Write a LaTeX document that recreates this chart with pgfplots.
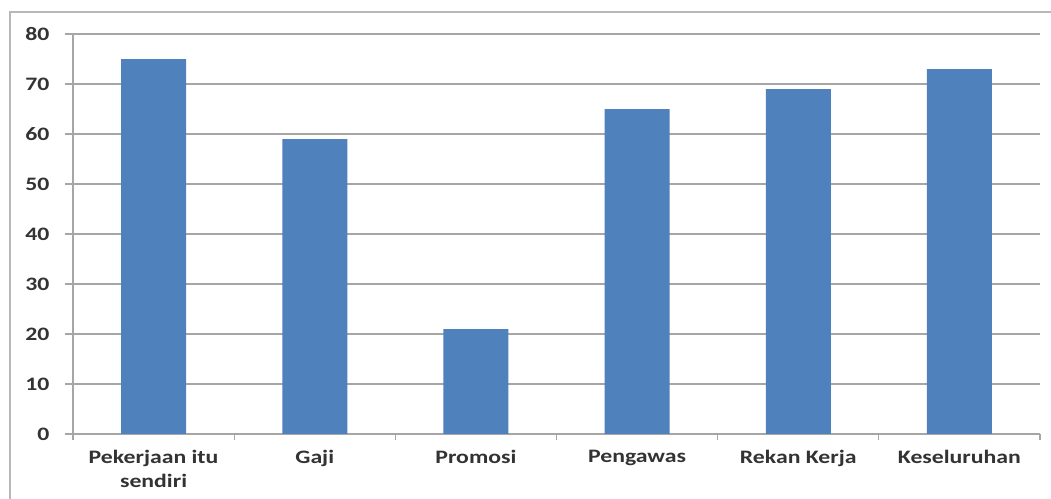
\documentclass[border=0pt]{standalone}
\usepackage{fontspec}
\setmainfont[FakeStretch=1.25]{Carlito}
\usepackage{pgfplots}
\pgfplotsset{compat=1.18}
\definecolor{barblue}{HTML}{4F81BD}
\definecolor{gridgray}{HTML}{A6A6A6}
\begin{document}
\begin{tikzpicture}
\useasboundingbox (0,0) rectangle (1051bp,499bp);
\fill[white] (0,0) rectangle (1051bp,499bp);
\draw[gridgray!80, line width=1.5bp] (10bp,0) -- (10bp,487bp) -- (1060bp,487bp);
\begin{axis}[
  at={(73bp,65bp)}, anchor=south west,
  scale only axis,
  width=967bp, height=400bp,
  xmin=-0.5, xmax=5.5,
  ymin=0, ymax=80,
  ytick={0,10,...,80},
  xtick={0,...,5},
  xticklabels={{Pekerjaan itu\\sendiri},Gaji,Promosi,Pengawas,Rekan Kerja,Keseluruhan},
  xticklabel style={align=center, text=black!80, font=\fontsize{19bp}{24bp}\selectfont\bfseries, yshift=-5bp},
  yticklabel style={text=black!80, font=\fontsize{19bp}{23bp}\selectfont\bfseries, xshift=-12bp},
  /pgf/number format/assume math mode=true,
  minor xtick={-0.5,0.5,...,5.5},
  tick align=outside,
  major x tick style={draw=none},
  minor tick length=6bp,
  major tick length=8bp,
  tick style={gridgray, line width=1.2bp},
  axis lines*=left,
  axis line style={gridgray, line width=1.2bp},
  ymajorgrids,
  grid style={gridgray, line width=1.2bp},
  ybar, bar width=65bp,
]
\addplot[fill=barblue, draw=none] coordinates {(0,75) (1,59) (2,21) (3,65) (4,69) (5,73)};
\end{axis}
\end{tikzpicture}
\end{document}
